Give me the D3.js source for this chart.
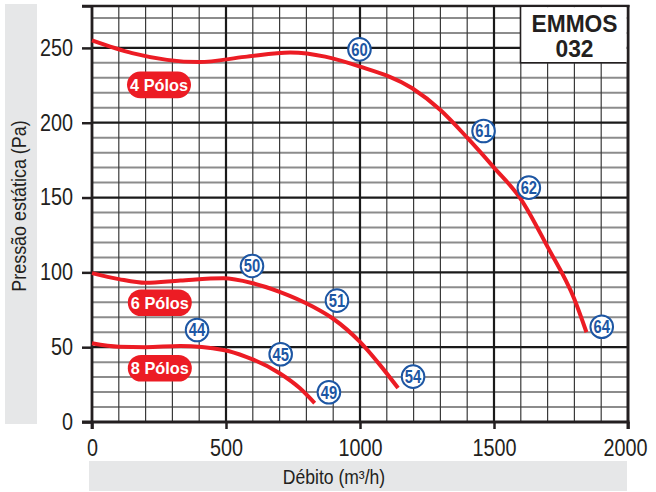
<!DOCTYPE html>
<html><head><meta charset="utf-8">
<script src="https://cdn.jsdelivr.net/npm/d3@7"></script>
<style>body{margin:0;background:#fff} svg{display:block}</style>
</head><body><svg id="c" width="656" height="492"></svg>
<script>
// ---- data ----
const xTicks = [0, 500, 1000, 1500, 2000];
const yTicks = [0, 50, 100, 150, 200, 250];
const xTitle = "Débito (m³/h)";
const yTitle = "Pressão estática  (Pa)";
const boxTitle = ["EMMOS", "032"];

const pole4X = [0, 150, 280, 400, 570, 740, 1000, 1195, 1300, 1400, 1500, 1600, 1700, 1800, 1845];
const pole4Y = [255, 246.5, 242, 240.5, 244, 247, 237.5, 223, 208.5, 190, 170, 149, 117, 82, 60];
const pole6X = [0, 100, 200, 330, 490, 600, 700, 825, 900, 1000, 1075, 1142];
const pole6Y = [99.5, 95.5, 93, 94.5, 96, 92.7, 87, 77, 69, 53.5, 38, 22.7];
const pole8X = [0, 100, 200, 330, 490, 575, 700, 775, 831];
const pole8Y = [52.6, 50.3, 50, 50.8, 48.1, 43.6, 32.6, 22.7, 12.6];

const seriesNames = ["4 Pólos", "6 Pólos", "8 Pólos"];
const seriesLabelX = [250, 253, 253];
const seriesLabelY = [225.3, 79.7, 35.9];

const pointLabels = ["60", "61", "62", "64", "50", "51", "54", "44", "45", "49"];
const pointX = [998, 1461, 1630, 1902, 597, 914, 1198, 392, 704, 884];
const pointY = [249, 194.5, 156.6, 63.7, 104.3, 81.1, 30.3, 61.5, 45.3, 19.9];

// ---- drawing ----
const svg = d3.select("#c");
const sans = "'Liberation Sans',Arial,sans-serif";
const ink = "#231f20";
const red = "#ec1c24";
const blue = "#1d56a3";

function condense(sel, f) {
  sel.each(function () {
    const len = this.getComputedTextLength();
    if (len > 0) d3.select(this).attr("textLength", len * f).attr("lengthAdjust", "spacingAndGlyphs");
  });
}

const x = d3.scaleLinear().domain([0, 2000]).range([92, 628]);
const y = d3.scaleLinear().domain([0, 278]).range([422, 6]);

// grey bands
svg.append("rect").attr("x", 5).attr("y", 4).attr("width", 32).attr("height", 420).attr("fill", "#e6e7e8");
svg.append("rect").attr("x", 89).attr("y", 461).attr("width", 538).attr("height", 30).attr("fill", "#e6e7e8");

const grid = svg.append("g");
const minorX = d3.range(100, 2000, 100).filter(v => v % 500 !== 0);
const minorY = d3.range(10, 278, 10).filter(v => v % 50 !== 0);

grid.selectAll(".hm").data(minorY).join("line")
  .attr("x1", x(0)).attr("x2", x(2000)).attr("y1", d => y(d)).attr("y2", d => y(d))
  .attr("stroke", "#8c8c8c").attr("stroke-width", 2);
grid.selectAll(".vm").data(minorX).join("line")
  .attr("x1", d => x(d)).attr("x2", d => x(d)).attr("y1", y(0)).attr("y2", y(278))
  .attr("stroke", "#3a3a3a").attr("stroke-width", 1.2);
grid.selectAll(".hM").data(yTicks.slice(1)).join("line")
  .attr("x1", x(0)).attr("x2", x(2000)).attr("y1", d => y(d)).attr("y2", d => y(d))
  .attr("stroke", "#1a1a1a").attr("stroke-width", 2.2);
grid.selectAll(".vM").data(xTicks.slice(1, -1)).join("line")
  .attr("x1", d => x(d)).attr("x2", d => x(d)).attr("y1", y(0)).attr("y2", y(278))
  .attr("stroke", "#1a1a1a").attr("stroke-width", 2.2);

// axes
const ax = svg.append("g").attr("transform", `translate(0,${y(0)})`)
  .call(d3.axisBottom(x).tickValues(xTicks).tickSize(7).tickPadding(11).tickFormat(d3.format("d")));
const ay = svg.append("g").attr("transform", `translate(${x(0)},0)`)
  .call(d3.axisLeft(y).tickValues(yTicks.concat([278])).tickSize(10).tickPadding(9)
    .tickFormat(d => d === 278 ? "" : d));
[ax, ay].forEach(a => {
  a.select(".domain").remove();
  a.selectAll(".tick line").attr("stroke", ink).attr("stroke-width", 2.5);
  a.selectAll(".tick text").attr("fill", ink).attr("font-family", sans).attr("font-size", 23);
  condense(a.selectAll(".tick text"), 0.86);
});
// keep the last x label fully inside the page
ax.selectAll(".tick text").filter(d => d === 2000).attr("x", -3);

// borders
svg.append("line").attr("x1", x(0)).attr("x2", x(0)).attr("y1", y(278)).attr("y2", y(0) + 7)
  .attr("stroke", ink).attr("stroke-width", 2.8);
svg.append("line").attr("x1", x(2000)).attr("x2", x(2000)).attr("y1", y(278) - 1).attr("y2", y(0) + 7)
  .attr("stroke", ink).attr("stroke-width", 3);
svg.append("line").attr("x1", 82).attr("x2", x(2000) + 1.5).attr("y1", y(278)).attr("y2", y(278))
  .attr("stroke", ink).attr("stroke-width", 2.5);
svg.append("line").attr("x1", 82).attr("x2", x(2000) + 1.5).attr("y1", y(0)).attr("y2", y(0))
  .attr("stroke", ink).attr("stroke-width", 2.8);

// title box
svg.append("rect").attr("x", 520.5).attr("y", y(278) + 1.2).attr("width", 106).attr("height", 62.7 - y(278) - 1.2)
  .attr("fill", "#fff");
svg.append("path").attr("d", `M520.5,${y(278)}V62.7H626.5`).attr("fill", "none").attr("stroke", ink).attr("stroke-width", 1.6);
const bt = svg.selectAll(".bt").data(boxTitle).join("text")
  .attr("x", 574.5).attr("y", (d, i) => i === 0 ? 31.5 : 57)
  .attr("text-anchor", "middle").attr("font-family", sans).attr("font-weight", "bold")
  .attr("font-size", 24.5).attr("fill", ink).text(d => d);
condense(bt, 0.93);

// curves
const line = d3.line().x(d => x(d[0])).y(d => y(d[1])).curve(d3.curveMonotoneX);
const series = [d3.zip(pole4X, pole4Y), d3.zip(pole6X, pole6Y), d3.zip(pole8X, pole8Y)];
svg.selectAll(".curve").data(series).join("path")
  .attr("d", line).attr("fill", "none").attr("stroke", red).attr("stroke-width", 4).attr("stroke-linecap", "butt");

// series pills
const pills = svg.selectAll(".pill").data(seriesNames).join("g")
  .attr("transform", (d, i) => `translate(${x(seriesLabelX[i])},${y(seriesLabelY[i])})`);
pills.append("rect").attr("x", -32).attr("y", -13.3).attr("width", 64).attr("height", 26.6)
  .attr("rx", 13.3).attr("fill", red);
pills.append("text").attr("y", 6).attr("text-anchor", "middle").attr("font-family", sans)
  .attr("font-weight", "bold").attr("font-size", 16.3).attr("fill", "#fff").text(d => d);

// point circles
const pts = svg.selectAll(".pt").data(pointLabels).join("g")
  .attr("transform", (d, i) => `translate(${x(pointX[i])},${y(pointY[i])})`);
pts.append("circle").attr("r", 11.3).attr("fill", "#fff").attr("stroke", blue).attr("stroke-width", 2);
const ptText = pts.append("text").attr("y", 6.5).attr("text-anchor", "middle").attr("font-family", sans)
  .attr("font-weight", "bold").attr("font-size", 18).attr("fill", blue).text(d => d);
condense(ptText, 0.82);

// axis titles
const xt = svg.append("text").attr("x", 334).attr("y", 484).attr("text-anchor", "middle")
  .attr("font-family", sans).attr("font-size", 19.5).attr("fill", ink).text(xTitle);
condense(xt, 0.9);
const yt = svg.append("text").attr("transform", "translate(26,206) rotate(-90)").attr("text-anchor", "middle")
  .attr("font-family", sans).attr("font-size", 19.5).attr("fill", ink).text(yTitle);
condense(yt, 0.92);
</script></body></html>
